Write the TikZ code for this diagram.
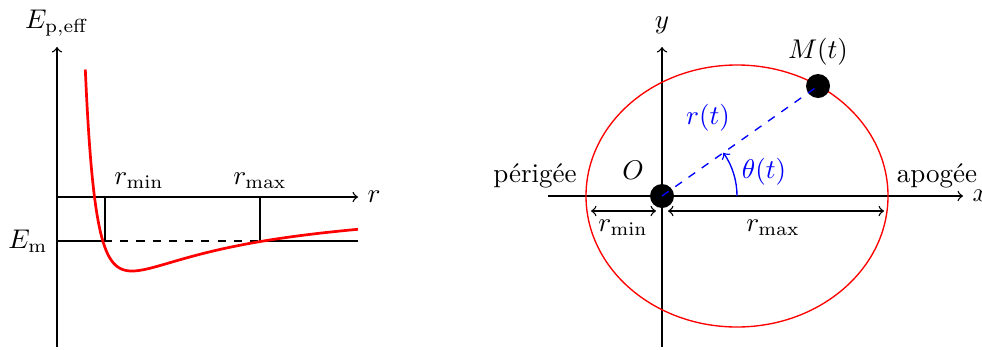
\documentclass[tikz,border=0pt]{standalone}
\usepackage{tikz}
\begin{document}
\begin{tikzpicture}[x=0.013cm,y=-0.013cm,
  axis/.style={->,line width=0.5pt},
  dot/.style={circle,fill=black,inner sep=0pt,minimum size=0.312cm},
  lbl/.style={inner sep=0pt}]
\useasboundingbox (0,0) rectangle (982,349);
% ---------- left: effective potential ----------
\coordinate (O1) at (57,197);
\coordinate (ybot) at (57,347);
\coordinate (ytop) at (57,47);
\coordinate (xend) at (358,197);
\draw[axis] (ybot) -- (ytop);
\draw[axis] (O1) -- (xend);
\node[lbl] (Ep) at (57,23) {$E_{\mathrm{p,eff}}$};
\node[right] (rlab) at (xend) {$r$};
\coordinate (Em0) at (57,241);
\coordinate (Ea) at (104,241);
\coordinate (Eb) at (260,241);
\coordinate (Ee) at (358,241);
\draw (Em0) -- (Ea);
\draw[dashed] (Ea) -- (Eb);
\draw (Eb) -- (Ee);
\node[left] (Emlab) at (Em0) {$E_{\mathrm{m}}$};
\coordinate (v1t) at (105,197);
\coordinate (v1b) at (105,241);
\coordinate (v2t) at (260,197);
\coordinate (v2b) at (260,241);
\draw (v1t) -- (v1b);
\draw (v2t) -- (v2b);
\node[lbl] (rminl) at (139,181) {$r_{\min}$};
\node[lbl] (rmaxl) at (260,181) {$r_{\max}$};
\draw[red,line width=1pt,smooth,samples=250,domain=28.3:301]
  plot ({57+\x},{197-(645.17/\x)^2+11100/\x});
% ---------- right: orbit ----------
\coordinate (xl) at (548,196);
\coordinate (xr) at (963,196);
\coordinate (yb) at (662,347);
\coordinate (yt) at (662,47);
\draw[axis] (xl) -- (xr);
\draw[axis] (yb) -- (yt);
\node[right] (xlab) at (xr) {$x$};
\node[lbl] (ylab) at (662,25) {$y$};
\draw[red,line width=0.5pt] (737,196) ellipse [x radius=151, y radius=131];
\node[dot] (O) at (662,196) {};
\node[dot] (M) at (818,86) {};
\draw[blue,dashed,line width=0.5pt] (O.center) -- (M.center);
\node[lbl] (Olab) at (633,170) {$O$};
\node[lbl] (Mlab) at (818,52) {$M(t)$};
\node[lbl,text=blue] (rt) at (708,118) {$r(t)$};
\node[lbl,text=blue] (th) at (764,172) {$\theta(t)$};
\draw[blue,->,line width=0.5pt] (737,196) arc[start angle=0,end angle=-35.2,radius=75];
\node[lbl] (peri) at (535,176) {périgée};
\node[lbl] (apo) at (937,176) {apogée};
\coordinate (a1) at (591,211);
\coordinate (a2) at (656,211);
\coordinate (a3) at (668,211);
\coordinate (a4) at (884,211);
\draw[<->,line width=0.5pt] (a1) -- (a2);
\draw[<->,line width=0.5pt] (a3) -- (a4);
\node[lbl] (rminr) at (623,228) {$r_{\min}$};
\node[lbl] (rmaxr) at (773,228) {$r_{\max}$};
\end{tikzpicture}
\end{document}
